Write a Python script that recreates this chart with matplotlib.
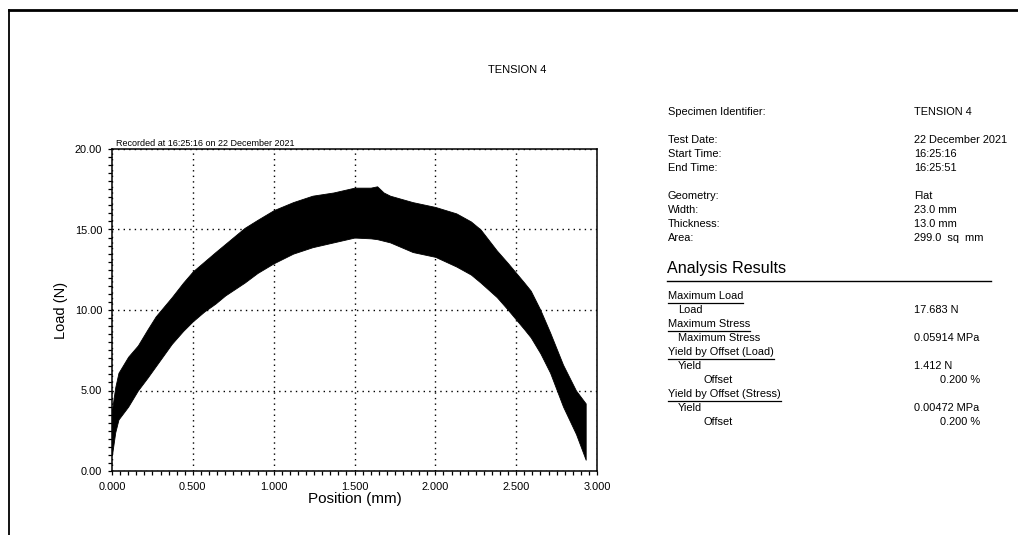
import matplotlib
matplotlib.use("Agg")
import matplotlib.pyplot as plt
from matplotlib.ticker import MultipleLocator, FormatStrFormatter
from matplotlib.lines import Line2D

plt.rcParams['font.family'] = ['Liberation Sans', 'DejaVu Sans']

# Load band (upper and lower envelope of the oscillating load trace)
position_mm = [0.00, 0.02, 0.04, 0.07, 0.10, 0.16, 0.22, 0.27, 0.37, 0.44,
               0.50, 0.57, 0.64, 0.70, 0.82, 0.90, 1.00, 1.12, 1.24, 1.37,
               1.50, 1.60, 1.64, 1.68, 1.72, 1.86, 2.00, 2.13, 2.22, 2.28,
               2.38, 2.45, 2.50, 2.55, 2.59, 2.65, 2.71, 2.79, 2.87, 2.93]
load_upper = [3.8, 5.2, 6.1, 6.6, 7.1, 7.8, 8.8, 9.6, 10.8, 11.7,
              12.4, 13.0, 13.6, 14.1, 15.1, 15.6, 16.2, 16.7, 17.1, 17.3,
              17.6, 17.6, 17.683, 17.3, 17.1, 16.7, 16.4, 16.0, 15.5, 15.0,
              13.7, 12.9, 12.3, 11.7, 11.2, 10.0, 8.6, 6.6, 5.0, 4.2]
load_lower = [1.0, 2.4, 3.2, 3.6, 4.0, 5.0, 5.8, 6.5, 7.9, 8.7,
              9.3, 9.9, 10.4, 10.9, 11.7, 12.3, 12.9, 13.5, 13.9, 14.2,
              14.5, 14.45, 14.4, 14.3, 14.2, 13.6, 13.3, 12.7, 12.2, 11.7,
              10.8, 10.0, 9.4, 8.8, 8.3, 7.3, 6.1, 4.0, 2.3, 0.7]

x_ticks = [0.0, 0.5, 1.0, 1.5, 2.0, 2.5, 3.0]
y_ticks = [0.0, 5.0, 10.0, 15.0, 20.0]

specimen_rows = [("Specimen Identifier:", "TENSION 4", 112),
                 ("Test Date:", "22 December 2021", 140),
                 ("Start Time:", "16:25:16", 154),
                 ("End Time:", "16:25:51", 168),
                 ("Geometry:", "Flat", 196),
                 ("Width:", "23.0 mm", 210),
                 ("Thickness:", "13.0 mm", 224),
                 ("Area:", "299.0  sq  mm", 238)]

# (label, value, indent level, header?, y pixel)
result_rows = [("Maximum Load", "", 0, True, 296),
               ("Load", "17.683 N", 1, False, 310),
               ("Maximum Stress", "", 0, True, 324),
               ("Maximum Stress", "0.05914 MPa", 1, False, 338),
               ("Yield by Offset (Load)", "", 0, True, 352),
               ("Yield", "1.412 N", 1, False, 366),
               ("Offset", "0.200 %", 2, False, 380),
               ("Yield by Offset (Stress)", "", 0, True, 394),
               ("Yield", "0.00472 MPa", 1, False, 408),
               ("Offset", "0.200 %", 2, False, 422)]

W, H = 1018, 535
FS = 7.9
fig = plt.figure(figsize=(W / 100, H / 100), dpi=100)
fig.patch.set_facecolor("white")


def fx(px):
    return px / W


def fy(py):
    return 1 - py / H


# page frame
fig.add_artist(Line2D([fx(9), fx(1018)], [fy(10), fy(10)], color="black", lw=2.0))
fig.add_artist(Line2D([fx(9), fx(9)], [fy(10), fy(535)], color="black", lw=1.3))

ax = fig.add_axes([fx(112), fy(471), fx(597) - fx(112), fy(149) - fy(471)])
ax.fill_between(position_mm, load_lower, load_upper, color="black", lw=0.6,
                edgecolor="black", zorder=3)

ax.set_xlim(0, 3.0)
ax.set_ylim(0, 20.0)
ax.set_xticks(x_ticks)
ax.set_yticks(y_ticks)
ax.xaxis.set_major_formatter(FormatStrFormatter("%.3f"))
ax.yaxis.set_major_formatter(FormatStrFormatter("%.2f"))
ax.xaxis.set_minor_locator(MultipleLocator(0.05))
ax.yaxis.set_minor_locator(MultipleLocator(0.5))
ax.tick_params(which="both", direction="out", length=3, width=0.9, colors="black",
               labelsize=FS, top=False, right=False)
ax.tick_params(axis="x", pad=5)
ax.tick_params(axis="y", pad=4)
for s in ax.spines.values():
    s.set_linewidth(1.1)
    s.set_color("black")
ax.grid(True, which="major", color="black", linestyle=(0, (1, 3)), linewidth=1.0)
ax.set_axisbelow(True)

ax.set_xlabel("Position (mm)", fontsize=11, labelpad=0)
ax.set_ylabel("Load (N)", fontsize=10.5, labelpad=5)

ax.text(0.008, 1.004, "Recorded at 16:25:16 on 22 December 2021", transform=ax.transAxes,
        fontsize=6.5, ha="left", va="bottom")

fig.text(fx(517), fy(70), "TENSION 4", fontsize=8, ha="center", va="center")

for label, value, py in specimen_rows:
    fig.text(fx(668), fy(py), label, fontsize=FS, ha="left", va="center")
    fig.text(fx(914), fy(py), value, fontsize=FS, ha="left", va="center")

fig.text(fx(667), fy(269), "Analysis Results", fontsize=11.6, ha="left", va="center")
fig.add_artist(Line2D([fx(667), fx(991)], [fy(281), fy(281)], color="black", lw=1.0))

fig.canvas.draw()
renderer = fig.canvas.get_renderer()
indent_px = {0: 668, 1: 678, 2: 703}
for label, value, level, header, py in result_rows:
    t = fig.text(fx(indent_px[level]), fy(py), label, fontsize=FS, ha="left", va="center")
    if header:
        bb = t.get_window_extent(renderer)
        fig.add_artist(Line2D([fx(bb.x0), fx(bb.x1)], [fy(py + 7), fy(py + 7)],
                              color="black", lw=0.9))
    if value:
        if level == 2:
            fig.text(fx(980), fy(py), value, fontsize=FS, ha="right", va="center")
        else:
            fig.text(fx(914), fy(py), value, fontsize=FS, ha="left", va="center")

fig.savefig("out.png", dpi=100, facecolor="white")
